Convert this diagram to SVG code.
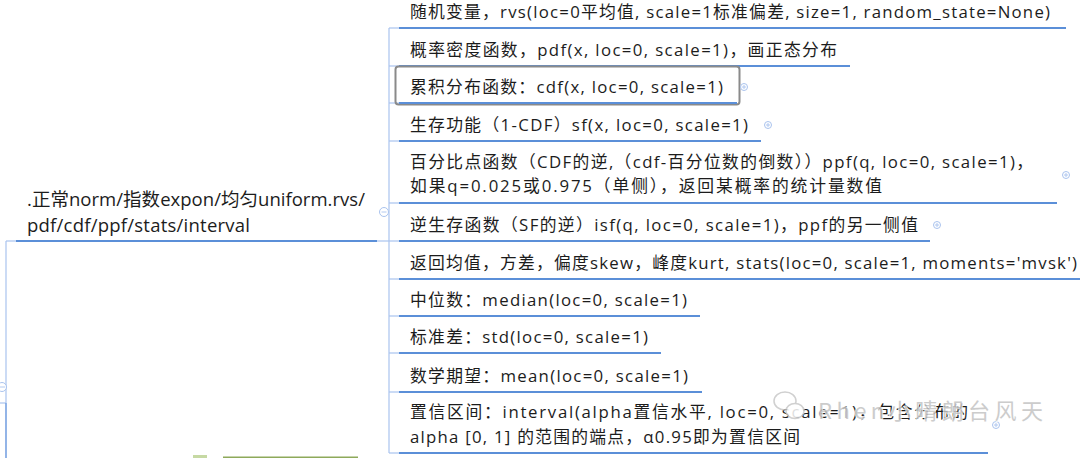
<svg xmlns="http://www.w3.org/2000/svg" width="1080" height="458" viewBox="0 0 1080 458">
<style>
.t{font-family:"Open Sans","Noto Sans CJK SC",sans-serif;font-size:16.8px;fill:#1c1c1c}
.r{font-size:18.5px}
.ul{stroke:#5b8fd8;stroke-width:2.2;fill:none}
.cn{stroke:#a9c3ee;stroke-width:1.2;fill:none}
.cc{fill:#fff;stroke:#a9c3ee;stroke-width:1}
.cs{stroke:#a9c3ee;stroke-width:0.9}
.wm{font-family:"Noto Sans CJK SC",sans-serif;font-size:22px;fill:#c4c4c4;stroke:#ffffff;stroke-width:1.5;paint-order:stroke}
</style>
<rect width="1080" height="458" fill="#ffffff"/>
<g id="connectors">
<line class="cn" x1="389" y1="28" x2="389" y2="453"/>
<line class="cn" x1="377" y1="241" x2="389" y2="241"/>
<line class="cn" x1="389" y1="28" x2="399" y2="28"/>
<line class="cn" x1="389" y1="66" x2="399" y2="66"/>
<line class="cn" x1="389" y1="103" x2="399" y2="103"/>
<line class="cn" x1="389" y1="141" x2="399" y2="141"/>
<line class="cn" x1="389" y1="203" x2="399" y2="203"/>
<line class="cn" x1="389" y1="241" x2="399" y2="241"/>
<line class="cn" x1="389" y1="279" x2="399" y2="279"/>
<line class="cn" x1="389" y1="316" x2="399" y2="316"/>
<line class="cn" x1="389" y1="353" x2="399" y2="353"/>
<line class="cn" x1="389" y1="392" x2="399" y2="392"/>
<line class="cn" x1="389" y1="453" x2="399" y2="453"/>
<line class="cn" x1="6" y1="241" x2="16" y2="241"/>
<line class="cn" x1="6" y1="241" x2="6" y2="403"/>
<line class="cn" x1="0" y1="403" x2="6" y2="403"/>
<line x1="6" y1="403" x2="6" y2="458" stroke="#78a2e2" stroke-width="1.6"/>
<circle class="cc" cx="2" cy="387" r="4.5"/>
<line class="cs" x1="0" y1="387" x2="5" y2="387"/>
<circle class="cc" cx="384" cy="212" r="4.5"/>
<line class="cs" x1="381.5" y1="212" x2="386.5" y2="212"/>
</g>
<g id="root">
<text class="t r" x="27" y="206" textLength="338" lengthAdjust="spacing">.正常norm/指数expon/均匀uniform.rvs/</text>
<text class="t r" x="27" y="232" textLength="223" lengthAdjust="spacing">pdf/cdf/ppf/stats/interval</text>
<line class="ul" x1="16" y1="241" x2="377" y2="241"/>
</g>
<g id="n1">
<text class="t" x="410" y="18" textLength="640" lengthAdjust="spacing">随机变量，rvs(loc=0平均值, scale=1标准偏差, size=1, random_state=None)</text>
<line class="ul" x1="399" y1="28" x2="1066" y2="28"/>
</g>
<g id="n2">
<text class="t" x="410" y="56" textLength="427" lengthAdjust="spacing">概率密度函数，pdf(x, loc=0, scale=1)，画正态分布</text>
<line class="ul" x1="399" y1="66" x2="850" y2="66"/>
</g>
<g id="n3">
<rect x="395.5" y="66.5" width="344" height="38" rx="3" fill="none" stroke="#8a8a8a" stroke-width="2"/>
<text class="t" x="410" y="93" textLength="313" lengthAdjust="spacing">累积分布函数：cdf(x, loc=0, scale=1)</text>
<line class="ul" x1="399" y1="103" x2="737" y2="103"/>
<circle class="cc" cx="744" cy="87" r="3.5"/>
<line class="cs" x1="742" y1="87" x2="746" y2="87"/><line class="cs" x1="744" y1="85" x2="744" y2="89"/>
</g>
<g id="n4">
<text class="t" x="410" y="131" textLength="338" lengthAdjust="spacing">生存功能（1-CDF）sf(x, loc=0, scale=1)</text>
<line class="ul" x1="399" y1="141" x2="761" y2="141"/>
<circle class="cc" cx="768" cy="125" r="3.5"/>
<line class="cs" x1="766" y1="125" x2="770" y2="125"/><line class="cs" x1="768" y1="123" x2="768" y2="127"/>
</g>
<g id="n5">
<text class="t" x="410" y="168" textLength="623" lengthAdjust="spacing">百分比点函数（CDF的逆,（cdf-百分位数的倒数））ppf(q, loc=0, scale=1)，</text>
<text class="t" x="410" y="192" textLength="472" lengthAdjust="spacing">如果q=0.025或0.975（单侧），返回某概率的统计量数值</text>
<line class="ul" x1="399" y1="203" x2="1057" y2="203"/>
<circle class="cc" cx="1066" cy="175" r="3.5"/>
<line class="cs" x1="1064" y1="175" x2="1068" y2="175"/><line class="cs" x1="1066" y1="173" x2="1066" y2="177"/>
</g>
<g id="n6">
<text class="t" x="410" y="231" textLength="508" lengthAdjust="spacing">逆生存函数（SF的逆）isf(q, loc=0, scale=1)，ppf的另一侧值</text>
<line class="ul" x1="399" y1="241" x2="930" y2="241"/>
<circle class="cc" cx="937" cy="225" r="3.5"/>
<line class="cs" x1="935" y1="225" x2="939" y2="225"/><line class="cs" x1="937" y1="223" x2="937" y2="227"/>
</g>
<g id="n7">
<text class="t" x="410" y="269" textLength="667" lengthAdjust="spacing">返回均值，方差，偏度skew，峰度kurt, stats(loc=0, scale=1, moments='mvsk')</text>
<line class="ul" x1="399" y1="279" x2="1080" y2="279"/>
</g>
<g id="n8">
<text class="t" x="410" y="306" textLength="277" lengthAdjust="spacing">中位数：median(loc=0, scale=1)</text>
<line class="ul" x1="399" y1="316" x2="700" y2="316"/>
</g>
<g id="n9">
<text class="t" x="410" y="343" textLength="238" lengthAdjust="spacing">标准差：std(loc=0, scale=1)</text>
<line class="ul" x1="399" y1="353" x2="661" y2="353"/>
</g>
<g id="n10">
<text class="t" x="410" y="382" textLength="278" lengthAdjust="spacing">数学期望：mean(loc=0, scale=1)</text>
<line class="ul" x1="399" y1="392" x2="702" y2="392"/>
</g>
<g id="n11">
<text class="t" x="410" y="418" textLength="558" lengthAdjust="spacing">置信区间：interval(alpha置信水平, loc=0, scale=1)，包含分布的</text>
<text class="t" x="410" y="443" textLength="390" lengthAdjust="spacing">alpha [0, 1] 的范围的端点，α0.95即为置信区间</text>
<line class="ul" x1="399" y1="453" x2="988" y2="453"/>
<circle class="cc" cx="996" cy="425" r="3.5"/>
<line class="cs" x1="994" y1="425" x2="998" y2="425"/><line class="cs" x1="996" y1="423" x2="996" y2="427"/>
</g>
<g id="watermark" opacity="0.85">
<ellipse cx="785" cy="401" rx="11" ry="9" fill="none" stroke="#c8c8c8" stroke-width="1.5"/>
<ellipse cx="795" cy="411" rx="9" ry="7.5" fill="#ffffff" stroke="#c8c8c8" stroke-width="1.5"/>
<text class="wm" x="818" y="419" textLength="225" lengthAdjust="spacing">Rhen小晴朗台风天</text>
</g>
<g id="bottom-node">
<rect x="193" y="455" width="14" height="3" fill="#c6d9a3"/>
<rect x="223" y="456.5" width="135" height="1.5" fill="#8ea95a"/>
</g>
</svg>
